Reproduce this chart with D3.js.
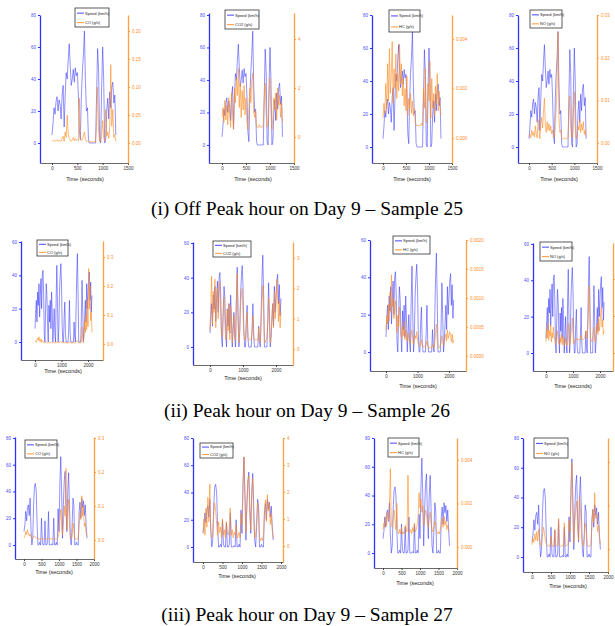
<!DOCTYPE html>
<html>
<head>
<meta charset="utf-8">
<script src="https://cdn.jsdelivr.net/npm/d3@7"></script>
<style>
  body { margin: 0; background: #fff; }
  svg { display: block; }
  text { font-family: "Liberation Sans", Arial, sans-serif; }
  .caption { font-family: "Liberation Serif", "Times New Roman", serif; }
</style>
</head>
<body>
<div id="chart"></div>
<script>
// sampling step of each recording (s)
const step25 = 20, step26 = 25, step27 = 25;

// ---- Sample 25 (off peak) ----
const speed25 = [
  5,12,22,18,26,29,20,27,
  24,15,30,36,10,30,44,40,
  52,62,48,36,40,46,38,47,
  42,44,30,8,2,30,45,55,
  70,38,20,22,2,0,0,0,
  0,0,0,0,30,59,45,2,
  0,35,60,40,0,2,20,28,
  15,32,22,35,38,25,30,5];
const co25 = [
  0.004,0.003,0.005,0.003,0.004,0.006,0.003,0.004,
  0.005,0.003,0.008,0.012,0.003,0.020,0.010,0.050,
  0.015,0.008,0.005,0.003,0.006,0.010,0.004,0.008,
  0.005,0.006,0.004,0.080,0.010,0.004,0.006,0.012,
  0.020,0.006,0.003,0.004,0.002,0.002,0.002,0.002,
  0.002,0.002,0.002,0.002,0.030,0.100,0.020,0.003,
  0.002,0.015,0.040,0.010,0.003,0.060,0.012,0.020,
  0.008,0.030,0.140,0.030,0.060,0.010,0.015,0.003];
const co2_25 = [
  0.8,1.2,0.6,1.5,0.7,1.3,0.5,1.6,
  0.9,0.4,1.8,1.0,0.3,2.0,1.4,2.4,
  1.7,2.8,1.2,2.2,0.8,1.9,1.1,2.1,
  0.9,1.6,0.6,0.3,1.2,2.0,1.4,2.3,
  2.6,1.0,0.8,1.1,0.4,0.4,0.4,0.5,
  0.4,0.4,0.4,0.5,1.6,2.2,0.9,0.4,
  0.5,1.8,2.4,1.0,0.3,0.8,1.6,1.1,
  1.8,0.7,2.0,1.3,1.7,0.8,1.4,0.6];
const hc25 = [
  0.0008,0.0014,0.0010,0.0022,0.0012,0.0030,0.0015,0.0036,
  0.0018,0.0025,0.0039,0.0014,0.0028,0.0020,0.0034,0.0016,
  0.0026,0.0019,0.0038,0.0022,0.0030,0.0017,0.0024,0.0013,
  0.0020,0.0011,0.0025,0.0009,0.0016,0.0012,0.0018,0.0010,
  0.0015,0.0009,0.0012,0.0007,0.0005,0.0005,0.0005,0.0005,
  0.0005,0.0005,0.0006,0.0005,0.0020,0.0012,0.0028,0.0006,
  0.0010,0.0022,0.0015,0.0031,0.0008,0.0024,0.0012,0.0018,
  0.0009,0.0021,0.0014,0.0026,0.0011,0.0019,0.0013,0.0009];
const no25 = [
  0.0015,0.0020,0.0012,0.0030,0.0018,0.0025,0.0014,0.0040,
  0.0020,0.0012,0.0055,0.0030,0.0010,0.0045,0.0060,0.0035,
  0.0075,0.0105,0.0040,0.0025,0.0050,0.0030,0.0045,0.0028,
  0.0040,0.0022,0.0030,0.0012,0.0015,0.0050,0.0080,0.0140,
  0.0260,0.0060,0.0025,0.0030,0.0012,0.0010,0.0010,0.0012,
  0.0010,0.0010,0.0010,0.0012,0.0060,0.0110,0.0040,0.0012,
  0.0015,0.0070,0.0120,0.0035,0.0010,0.0020,0.0040,0.0030,
  0.0055,0.0025,0.0045,0.0030,0.0050,0.0020,0.0030,0.0015];

// ---- Sample 26 (peak) ----
const speed26 = [
  8,18,25,12,30,22,35,15,28,38,
  20,40,43,30,5,0,20,35,28,10,
  0,22,12,25,8,30,18,0,10,20,
  5,0,28,46,20,0,8,30,40,47,
  35,10,0,0,15,24,5,0,0,0,
  0,10,25,6,0,0,0,0,0,12,
  3,0,20,40,53,30,0,0,0,0,
  15,37,20,0,5,15,25,12,35,20,
  30,38,42,25,36,18,28];
const co26 = [
  0.008,0.010,0.006,0.015,0.020,0.012,0.025,0.010,0.008,0.018,
  0.006,0.012,0.010,0.005,0.004,0.004,0.006,0.008,0.005,0.004,
  0.004,0.005,0.004,0.006,0.004,0.005,0.004,0.004,0.004,0.005,
  0.004,0.004,0.005,0.008,0.005,0.004,0.004,0.006,0.008,0.010,
  0.006,0.004,0.004,0.004,0.005,0.006,0.004,0.004,0.004,0.004,
  0.004,0.004,0.006,0.004,0.004,0.004,0.004,0.004,0.004,0.005,
  0.004,0.004,0.006,0.010,0.012,0.008,0.004,0.004,0.004,0.004,
  0.010,0.060,0.020,0.005,0.030,0.080,0.040,0.100,0.050,0.150,
  0.060,0.260,0.120,0.200,0.080,0.110,0.040];
const co2_26 = [
  0.6,1.5,2.4,0.8,1.9,1.2,2.3,0.7,1.6,2.0,
  1.0,1.8,2.2,1.1,0.4,0.5,1.2,1.7,0.9,0.3,
  0.4,1.3,0.6,1.5,0.3,1.4,0.8,0.2,0.7,1.1,
  0.5,0.3,1.6,2.5,0.9,0.2,0.6,1.4,1.8,2.0,
  1.2,0.5,0.3,0.3,0.8,1.2,0.4,0.3,0.3,0.3,
  0.3,0.6,1.1,0.4,0.3,0.3,0.3,0.3,0.3,0.7,
  0.3,0.2,0.9,1.6,2.1,1.2,0.3,0.2,0.3,0.4,
  0.9,1.7,0.8,0.2,0.5,1.1,1.5,0.7,1.9,1.0,
  1.4,2.3,1.8,0.9,1.6,0.7,1.2];
const hc26 = [
  0.00045,0.00070,0.00055,0.00090,0.00060,0.00110,0.00075,0.00140,0.00085,0.00100,
  0.00065,0.00080,0.00095,0.00060,0.00040,0.00070,0.00050,0.00085,0.00055,0.00035,
  0.00030,0.00050,0.00035,0.00060,0.00028,0.00045,0.00032,0.00025,0.00040,0.00030,
  0.00025,0.00022,0.00038,0.00045,0.00030,0.00020,0.00028,0.00035,0.00030,0.00042,
  0.00030,0.00020,0.00018,0.00016,0.00022,0.00028,0.00018,0.00016,0.00016,0.00016,
  0.00015,0.00020,0.00026,0.00018,0.00014,0.00014,0.00014,0.00014,0.00014,0.00020,
  0.00015,0.00014,0.00025,0.00040,0.00055,0.00030,0.00016,0.00014,0.00015,0.00018,
  0.00022,0.00035,0.00028,0.00018,0.00024,0.00030,0.00038,0.00026,0.00045,0.00030,
  0.00036,0.00042,0.00033,0.00025,0.00038,0.00022,0.00028];
const no26 = [
  0.0030,0.0065,0.0040,0.0080,0.0035,0.0060,0.0045,0.0075,0.0030,0.0055,
  0.0040,0.0070,0.0050,0.0035,0.0025,0.0030,0.0045,0.0060,0.0035,0.0025,
  0.0022,0.0040,0.0028,0.0050,0.0022,0.0045,0.0030,0.0020,0.0030,0.0040,
  0.0025,0.0020,0.0045,0.0080,0.0035,0.0020,0.0030,0.0055,0.0060,0.0095,
  0.0050,0.0025,0.0030,0.0035,0.0038,0.0040,0.0035,0.0036,0.0036,0.0037,
  0.0036,0.0040,0.0048,0.0038,0.0036,0.0036,0.0038,0.0040,0.0045,0.0060,
  0.0050,0.0040,0.0080,0.0120,0.0180,0.0100,0.0040,0.0035,0.0030,0.0035,
  0.0050,0.0070,0.0045,0.0030,0.0040,0.0065,0.0080,0.0050,0.0095,0.0060,
  0.0075,0.0110,0.0125,0.0070,0.0090,0.0050,0.0060];

// ---- Sample 27 (peak) ----
const speed27 = [
  10,15,25,18,28,30,22,35,12,0,
  5,30,44,46,40,15,0,0,2,0,
  20,2,0,0,18,0,0,2,25,0,
  0,0,1,0,20,0,0,2,0,27,
  10,45,66,40,5,30,48,55,28,10,
  40,54,30,5,0,15,35,30,0,0,
  2,0,0,25,32,20,35,28,33,22,
  30,15,5];
const co27 = [
  0.005,0.010,0.025,0.015,0.030,0.020,0.012,0.018,0.008,0.004,
  0.004,0.008,0.012,0.010,0.006,0.004,0.003,0.003,0.003,0.003,
  0.004,0.003,0.003,0.003,0.004,0.003,0.003,0.003,0.005,0.003,
  0.003,0.003,0.003,0.003,0.004,0.003,0.003,0.003,0.003,0.008,
  0.020,0.060,0.090,0.040,0.015,0.050,0.100,0.070,0.210,0.030,
  0.080,0.120,0.040,0.010,0.004,0.010,0.050,0.030,0.004,0.003,
  0.003,0.003,0.004,0.040,0.080,0.060,0.130,0.070,0.100,0.040,
  0.050,0.020,0.010];
const co2_27 = [
  0.5,1.0,0.4,1.4,0.7,1.8,0.9,2.3,0.6,0.3,
  0.4,1.2,1.6,1.3,0.8,0.4,0.9,0.5,0.7,0.3,
  1.0,0.4,0.6,0.3,0.9,0.5,0.4,0.7,1.4,0.4,
  0.6,0.3,0.5,0.4,0.8,0.3,0.4,0.5,0.3,1.2,
  0.8,2.2,3.3,1.8,0.5,1.6,2.4,2.6,1.2,0.6,
  2.0,2.5,1.0,0.3,0.4,0.9,1.6,1.3,0.3,0.2,
  0.3,0.2,0.4,1.2,1.7,0.9,1.9,1.3,1.6,0.8,
  1.2,0.6,0.3];
const hc27 = [
  0.0008,0.0011,0.0009,0.0014,0.0010,0.0016,0.0012,0.0020,0.0036,0.0010,
  0.0009,0.0013,0.0017,0.0012,0.0008,0.0020,0.0007,0.0006,0.0008,0.0006,
  0.0009,0.0006,0.0007,0.0006,0.0010,0.0008,0.0007,0.0033,0.0009,0.0007,
  0.0008,0.0006,0.0009,0.0007,0.0011,0.0007,0.0008,0.0010,0.0014,0.0025,
  0.0018,0.0022,0.0016,0.0019,0.0010,0.0013,0.0017,0.0015,0.0011,0.0009,
  0.0013,0.0016,0.0011,0.0008,0.0007,0.0009,0.0012,0.0010,0.0007,0.0006,
  0.0007,0.0006,0.0008,0.0011,0.0013,0.0009,0.0014,0.0010,0.0012,0.0008,
  0.0010,0.0008,0.0007];
const no27 = [
  0.0010,0.0025,0.0015,0.0035,0.0020,0.0040,0.0018,0.0045,0.0022,0.0008,
  0.0010,0.0030,0.0050,0.0038,0.0020,0.0012,0.0008,0.0006,0.0008,0.0006,
  0.0030,0.0007,0.0006,0.0006,0.0045,0.0008,0.0007,0.0010,0.0070,0.0008,
  0.0006,0.0007,0.0008,0.0006,0.0060,0.0008,0.0007,0.0009,0.0010,0.0065,
  0.0040,0.0120,0.0198,0.0080,0.0015,0.0060,0.0090,0.0110,0.0050,0.0020,
  0.0120,0.0090,0.0040,0.0012,0.0008,0.0025,0.0060,0.0045,0.0010,0.0006,
  0.0007,0.0006,0.0010,0.0050,0.0090,0.0060,0.0129,0.0070,0.0080,0.0040,
  0.0055,0.0025,0.0010];

// tick labels
const xTicks25 = [0, 500, 1000, 1500];
const xTicks26 = [0, 1000, 2000];
const xTicks27 = [0, 500, 1000, 1500, 2000];
const speedTicks80 = [0, 20, 40, 60, 80];
const speedTicks60 = [0, 20, 40, 60];
const coTicks25 = [0, 0.05, 0.10, 0.15, 0.20];
const co2Ticks25 = [0, 2, 4];
const hcTicks25 = [0, 0.002, 0.004];
const noTicks25 = [0, 0.01, 0.02, 0.03];
const coTicks26 = [0, 0.1, 0.2, 0.3];
const co2Ticks26 = [0, 1, 2, 3];
const hcTicks26 = [0, 0.0005, 0.0010, 0.0015, 0.0020];
const noTicks26 = [0, 0.01, 0.02];
const coTicks27 = [0, 0.1, 0.2, 0.3];
const co2Ticks27 = [0, 1, 2, 3, 4];
const hcTicks27 = [0, 0.002, 0.004];
const noTicks27 = [0, 0.01, 0.02];

const captions = [
  "(i) Off Peak hour on Day 9 \u2013 Sample 25",
  "(ii) Peak hour on Day 9 \u2013 Sample 26",
  "(iii) Peak hour on Day 9 \u2013 Sample 27"
];

const time25 = speed25.map((d, i) => i * step25);
const time26 = speed26.map((d, i) => i * step26);
const time27 = speed27.map((d, i) => i * step27);

// one entry per small chart: box = [left, right, top, bottom]
// rl = false: right tick labels fall past the page edge in the original, so they are left off
const panels = [
  {name: "CO", t: time25, s: speed25, e: co25, box: [40,128,15,163], x: [-237,1500], yL: [-12.5,80], yR: [-0.0357,0.2286], xt: xTicks25, lt: speedTicks80, rt: coTicks25, rf: ".2f", leg: [75,8,34,19], title: [85,181]},
  {name: "CO2", t: time25, s: speed25, e: co2_25, box: [209,294,13,163], x: [-271,1500], yL: [-11.1,81.2], yR: [-1.06,5.06], xt: xTicks25, lt: speedTicks80, rt: co2Ticks25, rf: "d", leg: [225,10,34,19], title: [253,181]},
  {name: "HC", t: time25, s: speed25, e: hc25, box: [372,452,15,163], x: [-239,1500], yL: [-9.7,80], yR: [-0.00101,0.00497], xt: xTicks25, lt: speedTicks80, rt: hcTicks25, rf: ".3f", leg: [389,10,31,22], title: [412,181]},
  {name: "NO", t: time25, s: speed25, e: no25, box: [518,597,15,163], x: [-243,1500], yL: [-9.7,80], yR: [-0.00469,0.03], xt: xTicks25, lt: speedTicks80, rt: noTicks25, rf: ".2f", leg: [530,10,32,18], title: [559,181]},

  {name: "CO", t: time26, s: speed26, e: co26, box: [21,103,241,360], x: [-528,2566], yL: [-10.8,60.6], yR: [-0.055,0.355], xt: xTicks26, lt: speedTicks60, rt: coTicks26, rf: ".1f", leg: [37,240,31,16], title: [63,373]},
  {name: "CO2", t: time26, s: speed26, e: co2_26, box: [193,293,242,365], x: [-515,2515], yL: [-10.4,60.6], yR: [-0.53,3.53], xt: xTicks26, lt: speedTicks60, rt: co2Ticks26, rf: "d", leg: [213,241,38,16], title: [243,380]},
  {name: "HC", t: time26, s: speed26, e: hc26, box: [370,466,240,371], x: [-508,2540], yL: [-10.2,60], yR: [-0.000259,0.0020], xt: xTicks26, lt: speedTicks60, rt: hcTicks26, rf: ".4f", leg: [393,236,37,18], title: [418,388]},
  {name: "NO", t: time26, s: speed26, e: no26, box: [533,613,243,371], x: [-481,2481], yL: [-9.9,60.5], yR: [-0.00486,0.0297], xt: xTicks26, lt: speedTicks60, rt: noTicks26, rf: ".2f", rl: false, leg: [540,242,32,19], title: [573,388]},

  {name: "CO", t: time27, s: speed27, e: co27, box: [15,94,437,559], x: [-257,2000], yL: [-10.5,80.7], yR: [-0.056,0.303], xt: xTicks27, lt: speedTicks80, rt: coTicks27, rf: ".1f", leg: [25,440,32,18], title: [54,574]},
  {name: "CO2", t: time27, s: speed27, e: co2_27, box: [193,283,438,562], x: [-256,2051], yL: [-11,80], yR: [-0.593,4], xt: xTicks27, lt: speedTicks80, rt: co2Ticks27, rf: "d", leg: [200,443,33,15], title: [237,578]},
  {name: "HC", t: time27, s: speed27, e: hc27, box: [374,457,438,568], x: [-243,2000], yL: [-10.4,80], yR: [-0.000966,0.00501], xt: xTicks27, lt: speedTicks80, rt: hcTicks27, rf: ".3f", leg: [388,438,31,19], title: [415,585]},
  {name: "NO", t: time27, s: speed27, e: no27, box: [523,608,438,572], x: [-237,2000], yL: [-10.1,80], yR: [-0.00529,0.0255], xt: xTicks27, lt: speedTicks80, rt: noTicks27, rf: ".2f", rl: false, leg: [534,438,34,20], title: [568,588]}
];

const blue = "#3030ff", orange = "#ff8a1c";

const svg = d3.select("#chart").append("svg")
  .attr("width", 615)
  .attr("height", 626);

panels.forEach(p => {
  const [x0, x1, y0, y1] = p.box;
  const x = d3.scaleLinear().domain(p.x).range([x0, x1]);
  const yL = d3.scaleLinear().domain(p.yL).range([y1, y0]);
  const yR = d3.scaleLinear().domain(p.yR).range([y1, y0]);
  const g = svg.append("g");

  // speed trace
  g.append("path")
    .datum(d3.zip(p.t, p.s))
    .attr("fill", "none")
    .attr("stroke", blue)
    .attr("stroke-width", 0.7)
    .attr("stroke-opacity", 0.75)
    .attr("d", d3.line().x(d => x(d[0])).y(d => yL(d[1])));

  // emission trace
  g.append("path")
    .datum(d3.zip(p.t, p.e))
    .attr("fill", "none")
    .attr("stroke", orange)
    .attr("stroke-width", 0.7)
    .attr("stroke-opacity", 0.85)
    .attr("d", d3.line().x(d => x(d[0])).y(d => yR(d[1])));

  // bottom axis
  const ax = g.append("g")
    .attr("transform", `translate(0,${y1})`)
    .call(d3.axisBottom(x).tickValues(p.xt).tickSize(2).tickSizeOuter(0).tickPadding(2).tickFormat(d3.format("d")));
  ax.select(".domain").attr("stroke", "#444").attr("stroke-width", 0.8);
  ax.selectAll(".tick line").attr("stroke", "#444");
  ax.selectAll("text").attr("font-size", 4.5).attr("fill", "#333");

  // left axis (speed)
  const al = g.append("g")
    .attr("transform", `translate(${x0},0)`)
    .call(d3.axisLeft(yL).tickValues(p.lt).tickSize(2).tickSizeOuter(0).tickPadding(2).tickFormat(d3.format("d")));
  al.select(".domain").attr("stroke", blue).attr("stroke-width", 1.3);
  al.selectAll(".tick line").attr("stroke", blue);
  al.selectAll("text").attr("font-size", 4.5).attr("fill", "#4a4aff");

  // right axis (emission)
  const ar = g.append("g")
    .attr("transform", `translate(${x1},0)`)
    .call(d3.axisRight(yR).tickValues(p.rt).tickSize(2).tickSizeOuter(0).tickPadding(2)
      .tickFormat(p.rl === false ? () => "" : d3.format(p.rf)));
  ar.select(".domain").attr("stroke", "#ffa040").attr("stroke-width", 1.3);
  ar.selectAll(".tick line").attr("stroke", "#ffa040");
  ar.selectAll("text").attr("font-size", 4.5).attr("fill", "#ff8c2a");
  if (p.rl === false) ar.selectAll(".tick text").remove();

  // x title
  g.append("text")
    .attr("x", p.title[0]).attr("y", p.title[1])
    .attr("text-anchor", "middle")
    .attr("font-size", 5.5)
    .attr("fill", "#222")
    .text("Time (seconds)");

  // legend
  const [lx, ly, lw, lh] = p.leg;
  const lg = g.append("g").attr("transform", `translate(${lx},${ly})`);
  lg.append("rect")
    .attr("width", lw).attr("height", lh)
    .attr("fill", "#fff").attr("stroke", "#333").attr("stroke-width", 0.8);
  const rows = [["Speed (km/h)", blue], [p.name + " (g/s)", orange]];
  rows.forEach((r, i) => {
    const cy = lh * (i + 0.5) / 2 + lh * 0.02;
    lg.append("line")
      .attr("x1", 2).attr("x2", 9).attr("y1", cy).attr("y2", cy)
      .attr("stroke", r[1]).attr("stroke-width", 0.9);
    lg.append("text")
      .attr("x", 10).attr("y", cy)
      .attr("dy", "0.35em")
      .attr("font-size", 4)
      .attr("fill", "#222")
      .text(r[0]);
  });
});

// row captions
const capY = [208, 410, 614];
captions.forEach((c, i) => {
  svg.append("text")
    .attr("class", "caption")
    .attr("x", 307).attr("y", capY[i])
    .attr("dy", "0.35em")
    .attr("text-anchor", "middle")
    .attr("font-size", 19.5)
    .attr("fill", "#000")
    .text(c);
});
</script>
</body>
</html>
